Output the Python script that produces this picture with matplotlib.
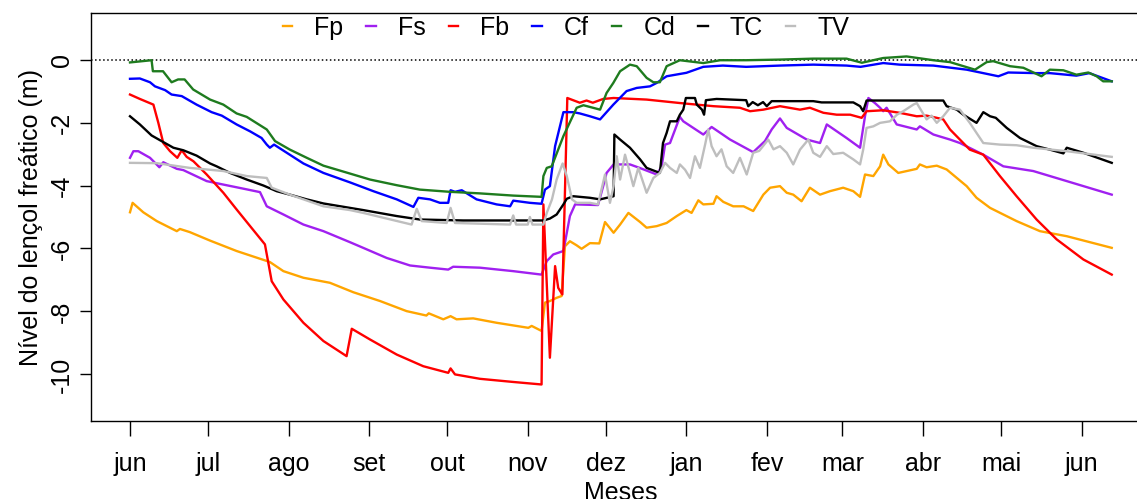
import numpy as np
import pandas as pd
import matplotlib
matplotlib.use("Agg")
import matplotlib.pyplot as plt

plt.rcParams['font.family'] = ['Liberation Sans', 'DejaVu Sans']
plt.rcParams['axes.unicode_minus'] = False

# --- Data (days since 2015-06-01, water-table level in m) ---
start = pd.Timestamp('2015-06-01')
month_labels = ['jun', 'jul', 'ago', 'set', 'out', 'nov', 'dez',
                'jan', 'fev', 'mar', 'abr', 'mai', 'jun']
y_ticks = [0, -2, -4, -6, -8, -10]

fp_day = [0, 1, 5.1, 10.3, 18, 19.2, 23, 30.8, 41, 53.8, 59, 66.7, 76.9, 85.9, 96.2,
          106.4, 114, 114.9, 120.5, 123.3, 125.6, 132, 141, 153.2, 154.5, 158.3, 159.6,
          161.5, 164, 166, 167.3, 169.2, 171.8, 173.7, 176.9, 180.5, 182.7, 186, 188.5,
          191.7, 196.2, 198.7, 202.6, 206.4, 210.3, 214, 216, 218.6, 220.5, 224.4, 225.6,
          228.2, 232, 236, 239.7, 243.6, 246.2, 250, 252.6, 255.1, 258.3, 261.5, 265.4,
          269.2, 274.3, 278.2, 280.8, 282.7, 285.9, 288.5, 289.7, 291.7, 295.5, 302.6,
          303.8, 306.4, 310.3, 314.1, 321.8, 325.6, 330.8, 341, 350, 360.3, 377.6]
fp_val = [-4.85, -4.55, -4.85, -5.13, -5.45, -5.38, -5.48, -5.75, -6.08, -6.43, -6.72,
          -6.93, -7.09, -7.39, -7.67, -7.99, -8.13, -8.06, -8.25, -8.15, -8.25, -8.22,
          -8.36, -8.52, -8.46, -8.62, -7.72, -7.67, -7.57, -7.51, -5.93, -5.77, -5.9,
          -6.01, -5.83, -5.84, -5.16, -5.5, -5.24, -4.87, -5.16, -5.34, -5.29, -5.19,
          -4.97, -4.78, -4.87, -4.47, -4.6, -4.58, -4.34, -4.52, -4.66, -4.66, -4.81,
          -4.29, -4.07, -4.02, -4.23, -4.29, -4.5, -4.07, -4.29, -4.18, -4.07, -4.18,
          -4.36, -3.65, -3.7, -3.39, -3.02, -3.33, -3.6, -3.47, -3.33, -3.42, -3.37,
          -3.49, -4.02, -4.39, -4.71, -5.13, -5.45, -5.61, -5.98]

fs_day = [0, 1.3, 3.2, 7.7, 11.3, 12.8, 18, 20.5, 29.5, 35.9, 43.6, 50, 52.6, 59, 66.7,
          74.4, 84.6, 89.7, 98.7, 107.7, 115.4, 122.4, 124.3, 134.6, 147.4, 158.3, 160.3,
          162.8, 166.7, 169.2, 171.2, 180, 182, 183.3, 186, 192.3, 196, 202.6, 204.5,
          205.8, 207.7, 211.5, 212.8, 220.5, 223.7, 230.8, 239.7, 244.2, 246.8, 250,
          252.6, 260.3, 265.4, 268, 275.6, 280.8, 282.7, 284, 286.5, 288.5, 289.7, 291,
          294.9, 302.6, 303.8, 309, 315.4, 319.2, 328.2, 335.9, 347.4, 360.3, 377.6]
fs_val = [-3.12, -2.91, -2.91, -3.12, -3.42, -3.26, -3.47, -3.51, -3.86, -3.97, -4.1,
          -4.21, -4.66, -4.92, -5.24, -5.45, -5.8, -5.98, -6.3, -6.54, -6.61, -6.67,
          -6.58, -6.61, -6.72, -6.83, -6.4, -6.19, -6.08, -4.97, -4.6, -4.62, -4.02,
          -3.6, -3.33, -3.33, -3.44, -3.65, -3.39, -2.7, -2.65, -1.82, -1.96, -2.38,
          -2.14, -2.54, -2.94, -2.59, -2.22, -1.87, -2.17, -2.54, -2.65, -2.06, -2.49,
          -2.8, -1.8, -1.22, -1.38, -1.53, -1.64, -1.53, -2.06, -2.22, -2.12, -2.38,
          -2.54, -2.65, -3.02, -3.39, -3.54, -3.86, -4.29]

fb_day = [0, 3.8, 9, 10.9, 12.8, 15.4, 18.2, 19.9, 21.8, 24.4, 29.5, 35.9, 41, 46.2,
          51.9, 54.5, 59, 66.7, 74.4, 83.3, 85.3, 92.3, 102.6, 112.8, 122.4, 123.3, 125,
          134.6, 147.4, 158.3, 159, 161.5, 163.5, 164.7, 166.3, 168.2, 173, 175.6, 178,
          182, 186, 198.7, 211.5, 224.4, 234.6, 238.5, 243.6, 250, 257.7, 261.5, 266.7,
          271.8, 277, 281.4, 283.3, 289.7, 296, 302.6, 306.4, 310.3, 312.8, 315.4, 319.2,
          323, 328.2, 334.6, 341, 348.7, 356.4, 366.7, 377.6]
fb_val = [-1.11, -1.25, -1.43, -2.01, -2.65, -2.91, -3.12, -2.88, -3.09, -3.23, -3.65,
          -4.23, -4.76, -5.29, -5.87, -7.04, -7.62, -8.36, -8.94, -9.42, -8.55, -8.89,
          -9.37, -9.74, -9.95, -9.81, -10.0, -10.14, -10.24, -10.32, -4.6, -9.47, -6.56,
          -7.25, -7.46, -1.22, -1.37, -1.3, -1.37, -1.25, -1.22, -1.27, -1.38, -1.48,
          -1.53, -1.64, -1.59, -1.48, -1.59, -1.53, -1.69, -1.75, -1.75, -1.85, -1.64,
          -1.61, -1.69, -1.8, -1.78, -1.85, -1.9, -2.22, -2.54, -2.86, -3.02, -3.7,
          -4.34, -5.08, -5.71, -6.35, -6.83]

cf_day = [0, 3.8, 7.7, 9.6, 13.5, 16, 19.9, 25.6, 31.4, 35.3, 41, 46.2, 50.6, 52.6,
          53.8, 55.4, 60.3, 66.7, 74.4, 84.6, 93.6, 102.6, 109, 110.9, 115.4, 119.2,
          122.4, 123.3, 125, 127.6, 133.3, 141, 146.2, 147.4, 153.8, 158.3, 159.6, 161.5,
          163.5, 166.7, 170.5, 173, 176.9, 180.8, 185.9, 191, 194.9, 200, 202.6, 206.4,
          214, 220.5, 228, 237, 250, 262.8, 275.6, 281, 289.7, 296, 309, 321.8, 334,
          337.8, 348.7, 353.8, 364, 369, 377.6]
cf_val = [-0.61, -0.6, -0.72, -0.85, -0.97, -1.11, -1.16, -1.43, -1.67, -1.78, -2.06,
          -2.28, -2.49, -2.7, -2.8, -2.7, -2.96, -3.3, -3.6, -3.9, -4.18, -4.44, -4.68,
          -4.39, -4.44, -4.55, -4.55, -4.15, -4.2, -4.15, -4.44, -4.6, -4.66, -4.48,
          -4.55, -4.58, -4.13, -4.02, -2.75, -1.67, -1.67, -1.71, -1.8, -1.9, -1.43,
          -1.0, -0.9, -0.85, -0.74, -0.53, -0.42, -0.23, -0.19, -0.23, -0.19, -0.16,
          -0.19, -0.23, -0.11, -0.16, -0.19, -0.32, -0.53, -0.41, -0.43, -0.43, -0.51,
          -0.43, -0.69]

cd_day = [0, 8.3, 8.8, 12.7, 16, 18.5, 21, 24.3, 30.8, 35.9, 41, 44.9, 52.6, 55.8, 61.5,
          68, 74.4, 84.6, 92.3, 102.6, 111.5, 123, 134.6, 147.4, 158.3, 159, 160.3,
          162.2, 166.7, 171.8, 174.4, 180.8, 183.3, 185.9, 188.5, 192.3, 194.9, 198.7,
          201.3, 203.8, 206.4, 211.5, 220.5, 227, 237, 250, 262.8, 275.6, 281.5, 289.7,
          298.7, 309, 315.4, 325, 329.5, 332, 338.5, 343.6, 350.6, 353.8, 359, 364,
          368.6, 371.8, 374.3, 377.6]
cd_val = [-0.09, -0.02, -0.37, -0.37, -0.72, -0.63, -0.63, -0.95, -1.27, -1.43, -1.71,
          -1.82, -2.22, -2.59, -2.86, -3.12, -3.37, -3.62, -3.81, -3.99, -4.13, -4.2,
          -4.25, -4.32, -4.36, -3.7, -3.44, -3.39, -2.43, -1.53, -1.45, -1.59, -1.06,
          -0.74, -0.37, -0.16, -0.21, -0.58, -0.72, -0.72, -0.21, -0.02, -0.11, -0.02,
          -0.02, 0.0, 0.03, 0.03, -0.1, 0.05, 0.1, -0.02, -0.08, -0.32, -0.08, -0.05,
          -0.21, -0.26, -0.53, -0.32, -0.34, -0.48, -0.41, -0.53, -0.69, -0.69]

tc_day = [0, 3.8, 8.3, 12.8, 16.7, 20.5, 25.6, 30.8, 33.3, 38.5, 44.9, 51.3, 56.4, 61.5,
          68, 74.4, 84.6, 89.7, 102.6, 111.5, 128.2, 159, 161.5, 164.1, 166.7, 168,
          170.5, 176.9, 180.8, 186, 186.3, 188.5, 192.3, 196.2, 198.7, 203.8, 205,
          206.4, 207.7, 210.3, 211.5, 212.8, 213.8, 217.3, 218, 220, 220.8, 221.5, 225.6,
          237, 237.8, 239.5, 241.5, 243.5, 244.9, 246.8, 262.8, 266, 278.2, 280.8, 282,
          283.3, 312.8, 314.1, 318, 320.5, 325.6, 328.2, 330.8, 333, 337.2, 342.3,
          348.7, 353.8, 359, 360.3, 366.7, 377.6]
tc_val = [-1.8, -2.06, -2.41, -2.62, -2.8, -2.88, -3.05, -3.3, -3.39, -3.6, -3.81, -4.0,
          -4.18, -4.29, -4.44, -4.57, -4.71, -4.78, -4.97, -5.08, -5.11, -5.11, -5.05,
          -4.92, -4.6, -4.42, -4.34, -4.39, -4.44, -4.34, -2.38, -2.54, -2.8, -3.17,
          -3.44, -3.6, -2.65, -2.33, -1.96, -1.96, -1.75, -1.59, -1.22, -1.22, -1.43,
          -1.59, -1.75, -1.29, -1.25, -1.29, -1.48, -1.35, -1.45, -1.35, -1.48, -1.32,
          -1.32, -1.36, -1.36, -1.48, -1.64, -1.3, -1.3, -1.48, -1.59, -1.75, -2.01,
          -1.67, -1.8, -1.85, -2.17, -2.49, -2.75, -2.86, -2.98, -2.8, -2.96, -3.28]

tv_day = [0, 10.3, 23, 35.9, 44.9, 52.6, 54.5, 61.5, 74.4, 84.6, 89.7, 108.3, 110.3,
          112.2, 121.8, 123.3, 125, 146.2, 147.4, 148.5, 153, 153.8, 154.8, 159, 160.3,
          162.3, 164.1, 166.4, 168, 170, 171.8, 176.9, 180, 182.7, 184.6, 186, 187.2,
          188.5, 190.4, 192.3, 193.6, 195.5, 198.7, 201.3, 203.8, 205.8, 207.7, 210.3,
          211.5, 213.5, 215.4, 217.3, 219.2, 221.2, 222.4, 223.7, 225.6, 227.5, 229.5,
          232, 234.6, 237.2, 239.7, 242, 245.5, 247.5, 250, 252.6, 255.1, 257.7, 260.9,
          262.8, 265.4, 268, 270.5, 274.3, 278.2, 280.8, 282, 283.3, 285.9, 288.5,
          292.3, 295, 297.4, 301.3, 302.6, 304.5, 306.4, 308.3, 310.3, 312.8, 315.4,
          319.2, 323, 325.6, 328.2, 334.6, 341, 347.4, 360.3, 377.6]
tv_val = [-3.28, -3.29, -3.44, -3.54, -3.7, -3.76, -4.07, -4.29, -4.66, -4.78, -4.87,
          -5.24, -4.74, -5.13, -5.19, -4.71, -5.19, -5.24, -4.95, -5.24, -5.24, -5.0,
          -5.24, -5.24, -4.87, -4.44, -3.81, -3.3, -3.7, -4.44, -4.55, -4.55, -4.6,
          -3.65, -4.55, -4.02, -3.07, -3.81, -3.02, -3.6, -4.02, -3.44, -4.23, -3.76,
          -3.6, -3.28, -3.44, -3.6, -3.33, -3.5, -3.76, -3.07, -3.44, -2.7, -2.22, -2.75,
          -3.07, -2.85, -3.39, -3.6, -3.12, -3.65, -2.96, -2.9, -2.54, -2.85, -2.75,
          -2.96, -3.33, -2.86, -2.54, -2.96, -3.09, -2.75, -3.0, -2.96, -3.17, -3.33,
          -2.86, -2.17, -2.12, -2.01, -1.96, -1.75, -1.64, -1.43, -1.38, -1.64, -1.9,
          -1.78, -2.01, -1.8, -1.53, -1.59, -2.01, -2.33, -2.65, -2.7, -2.72, -2.8,
          -2.91, -3.09]

series = [
    ('Fp', fp_day, fp_val, 'orange'),
    ('Fs', fs_day, fs_val, '#A020F0'),
    ('Fb', fb_day, fb_val, 'red'),
    ('Cf', cf_day, cf_val, 'blue'),
    ('Cd', cd_day, cd_val, '#1E7B1E'),
    ('TC', tc_day, tc_val, 'black'),
    ('TV', tv_day, tv_val, '#BEBEBE'),
]

# month tick positions from the calendar
month_starts = pd.date_range(start, periods=len(month_labels), freq='MS')
month_pos = (month_starts - start).days.to_numpy()

FS = 18

# --- Plotting ---
fig = plt.figure(figsize=(11.37, 4.99), dpi=100)
ax = fig.add_axes([91 / 1137, 1 - 421 / 499, 1060 / 1137, 408 / 499])

ax.axhline(0, color='black', linestyle=':', linewidth=1.1)
for name, d, v, col in series:
    ax.plot(d, v, color=col, linewidth=1.7, label=name)

ax.set_xlim(-15, 392.7)
ax.set_ylim(-11.48, 1.48)
ax.set_xticks(month_pos)
ax.set_xticklabels(month_labels)
ax.set_yticks(y_ticks)
ax.set_yticklabels([str(t) for t in y_ticks], rotation=90, va='center')
ax.tick_params(axis='x', length=11, width=1, pad=11, labelsize=FS)
ax.tick_params(axis='y', length=8, width=1, pad=4, labelsize=FS)
for s in ax.spines.values():
    s.set_linewidth(1)
ax.set_xlabel('Meses', fontsize=FS, labelpad=4)
ax.set_ylabel('Nível do lençol freático (m)', fontsize=FS, labelpad=5)

leg = ax.legend(loc='center', bbox_to_anchor=(566 / 1137, 1 - 28 / 499),
                bbox_transform=fig.transFigure, ncol=7, frameon=False,
                fontsize=FS, handlelength=0.38, handletextpad=0.88,
                columnspacing=0.92, borderpad=0)

fig.savefig('out.png', dpi=100)
